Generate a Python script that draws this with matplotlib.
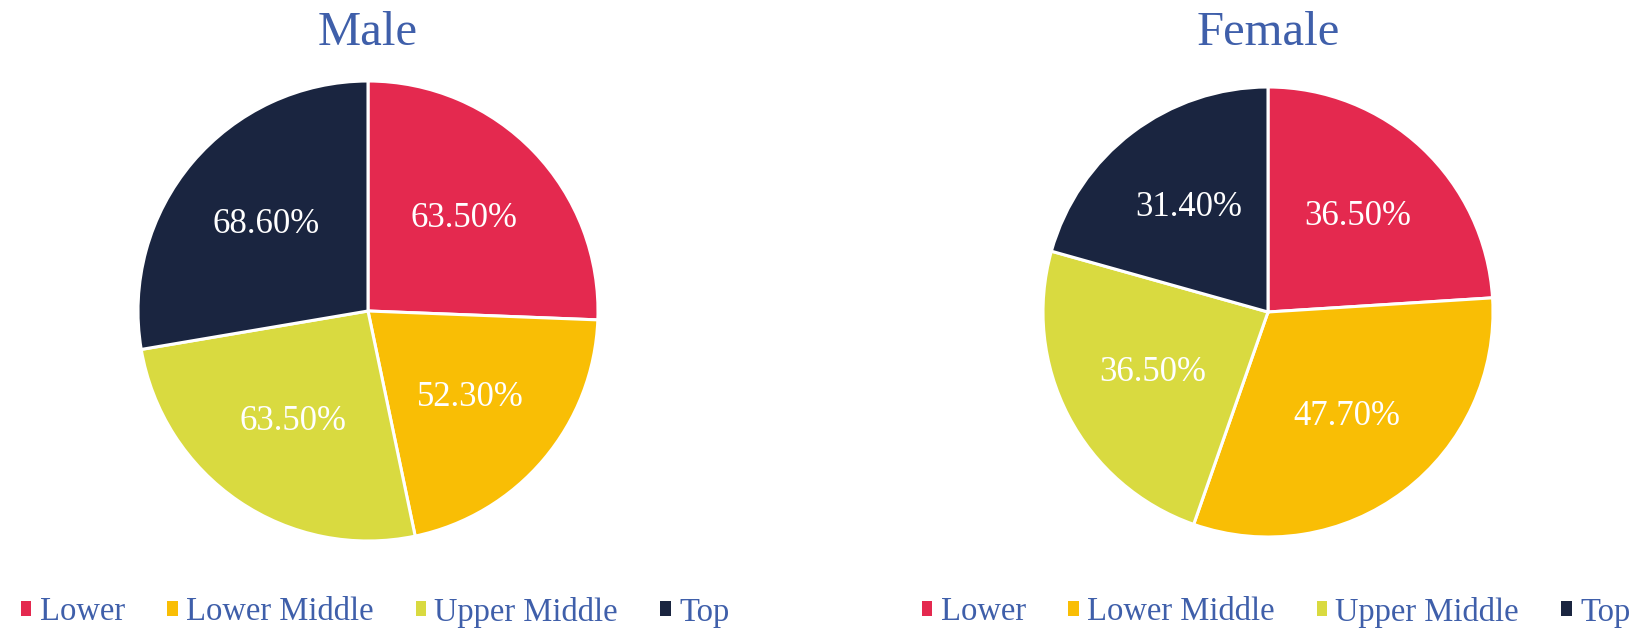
import matplotlib
matplotlib.use("Agg")
import matplotlib.pyplot as plt
from matplotlib.patches import Patch

categories = ["Lower", "Lower Middle", "Upper Middle", "Top"]
male_values = [63.5, 52.3, 63.5, 68.6]
female_values = [36.5, 47.7, 36.5, 31.4]
titles = ["Male", "Female"]

colors = ["#E4294F", "#F9BE05", "#D9DA40", "#1A2540"]
text_color = "#3F5FAA"
W, H = 1643, 629
plt.rcParams['font.family'] = ['Liberation Serif', 'DejaVu Serif']

fig = plt.figure(figsize=(W / 100, H / 100), dpi=100)

layout = [  # (center x px, center y px from top, radius px)
    (368, 311, 230),
    (1268, 312, 225),
]

for (cx, cy, r), vals, title in zip(layout, [male_values, female_values], titles):
    ax = fig.add_axes([(cx - r) / W, (H - cy - r) / H, 2 * r / W, 2 * r / H])
    wedges, texts, autotexts = ax.pie(
        vals, colors=colors, startangle=90, counterclock=False,
        autopct=lambda p, v=vals: f"{p * sum(v) / 100:.2f}%",
        pctdistance=0.58,
        wedgeprops=dict(edgecolor="white", linewidth=2.2),
        textprops=dict(color="white", fontsize=25),
    )
    ax.set_xlim(-1, 1)
    ax.set_ylim(-1, 1)
    ax.set_aspect("auto")
    fig.text(cx / W, 1 - 33 / H, title, ha="center", va="center",
             fontsize=35, color=text_color)

handles = [Patch(facecolor=c, edgecolor="none") for c in colors]
for x0 in [21, 922]:
    leg = fig.legend(handles, categories, loc="center left",
                     bbox_to_anchor=(x0 / W, 17 / H), ncol=4, frameon=False,
                     fontsize=23.5, handlelength=0.32, handleheight=0.32,
                     handletextpad=0.25, columnspacing=1.3,
                     borderpad=0, borderaxespad=0)
    for t in leg.get_texts():
        t.set_color(text_color)

fig.savefig("out.png", dpi=100, facecolor="white")
